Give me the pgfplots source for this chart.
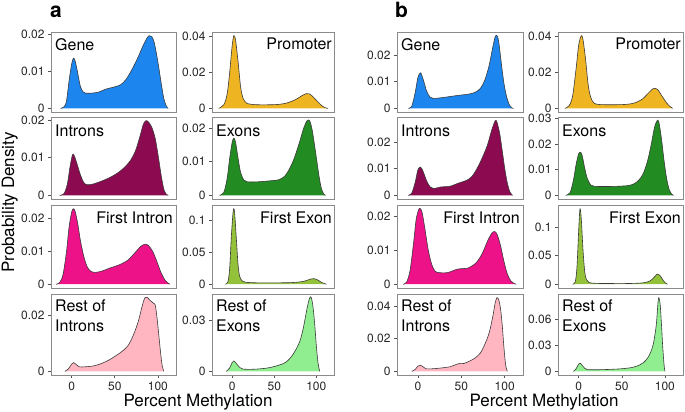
\documentclass[border=0pt]{standalone}
\usepackage{fontspec}
\setmainfont{TeX Gyre Heros}
\usepackage{pgfplots}
\usepackage{pgfplotstable}
\pgfplotsset{compat=1.18}

\definecolor{genecol}{HTML}{1C86EE}
\definecolor{promcol}{HTML}{EEB422}
\definecolor{intrcol}{HTML}{8B0A50}
\definecolor{exoncol}{HTML}{228B22}
\definecolor{fintcol}{HTML}{EE1289}
\definecolor{fexcol}{HTML}{93C13A}
\definecolor{rintcol}{HTML}{FFB6C1}
\definecolor{rexcol}{HTML}{90EE90}
\definecolor{framecol}{HTML}{8A8A8A}
\definecolor{tickcol}{HTML}{555555}
\definecolor{linecol}{HTML}{3A3A3A}

% panel a
\pgfplotstableread[row sep=\\]{x y\\ -13 0\\ -9 0.0004\\ -6 0.002\\ -3 0.0075\\ 0 0.012\\ 2 0.0135\\ 4 0.0128\\ 7 0.0095\\ 10 0.006\\ 13 0.0045\\ 16 0.0041\\ 22 0.0041\\ 30 0.0043\\ 40 0.0052\\ 50 0.0058\\ 57 0.0064\\ 63 0.0078\\ 70 0.0105\\ 77 0.0138\\ 83 0.0170\\ 88 0.0192\\ 90 0.0196\\ 93 0.0193\\ 96 0.0175\\ 100 0.0125\\ 104 0.0065\\ 107 0.0025\\ 110 0.0005\\ 112 0\\}\geneA
\pgfplotstableread[row sep=\\]{x y\\ -16 0\\ -10 0.002\\ -6 0.008\\ -3 0.02\\ 0 0.035\\ 2 0.0405\\ 4 0.038\\ 7 0.026\\ 10 0.012\\ 13 0.0055\\ 17 0.003\\ 22 0.0023\\ 30 0.002\\ 45 0.002\\ 55 0.0022\\ 65 0.003\\ 75 0.0048\\ 82 0.0068\\ 88 0.0082\\ 92 0.008\\ 97 0.006\\ 102 0.0035\\ 107 0.0013\\ 111 0.0003\\ 114 0\\}\promA
\pgfplotstableread[row sep=\\]{x y\\ -14 0\\ -9 0.0004\\ -5 0.003\\ -2 0.0075\\ 1 0.0108\\ 3 0.0105\\ 6 0.0085\\ 10 0.0055\\ 14 0.0034\\ 18 0.0028\\ 25 0.003\\ 35 0.0038\\ 45 0.0048\\ 55 0.0062\\ 62 0.0076\\ 68 0.0092\\ 74 0.0118\\ 79 0.0155\\ 83 0.0188\\ 86 0.0198\\ 89 0.0195\\ 93 0.0180\\ 97 0.0150\\ 101 0.0095\\ 104 0.0050\\ 107 0.0015\\ 110 0.0002\\ 112 0\\}\intrA
\pgfplotstableread[row sep=\\]{x y\\ -15 0\\ -10 0.0008\\ -6 0.005\\ -3 0.011\\ 0 0.0158\\ 2 0.017\\ 4 0.0158\\ 7 0.011\\ 10 0.0068\\ 14 0.0045\\ 18 0.004\\ 30 0.0040\\ 45 0.0043\\ 55 0.0046\\ 62 0.0056\\ 68 0.0078\\ 74 0.0112\\ 80 0.0158\\ 85 0.020\\ 89 0.0222\\ 92 0.0222\\ 95 0.0195\\ 99 0.013\\ 103 0.006\\ 106 0.002\\ 109 0.0003\\ 111 0\\}\exonA
\pgfplotstableread[row sep=\\]{x y\\ -18 0\\ -14 0.0005\\ -10 0.003\\ -6 0.010\\ -3 0.0175\\ 0 0.022\\ 2 0.023\\ 4 0.0222\\ 7 0.0185\\ 10 0.0135\\ 14 0.0085\\ 18 0.0053\\ 22 0.0040\\ 27 0.0036\\ 35 0.0040\\ 45 0.0050\\ 55 0.0059\\ 65 0.0073\\ 73 0.0095\\ 80 0.0115\\ 85 0.0122\\ 89 0.0118\\ 94 0.0100\\ 99 0.0068\\ 104 0.0033\\ 109 0.0010\\ 114 0\\}\fintA
\pgfplotstableread[row sep=\\]{x y\\ -8 0\\ -5 0.004\\ -3 0.025\\ -1 0.075\\ 1 0.112\\ 2 0.118\\ 3 0.110\\ 5 0.070\\ 7 0.030\\ 9 0.012\\ 12 0.005\\ 16 0.003\\ 30 0.0022\\ 50 0.0022\\ 70 0.0025\\ 85 0.0045\\ 93 0.0080\\ 98 0.0085\\ 102 0.0065\\ 106 0.003\\ 110 0.0008\\ 112 0\\}\fexA
\pgfplotstableread[row sep=\\]{x y\\ -8 0\\ -4 0.0008\\ 0 0.0026\\ 2 0.0031\\ 5 0.0025\\ 9 0.0016\\ 15 0.0016\\ 25 0.0019\\ 33 0.0026\\ 42 0.0038\\ 51 0.0055\\ 58 0.0070\\ 65 0.0090\\ 71 0.0125\\ 77 0.0175\\ 82 0.0235\\ 85 0.0262\\ 88 0.0262\\ 91 0.0252\\ 95 0.0242\\ 97 0.0235\\ 99 0.019\\ 101 0.013\\ 103 0.007\\ 105 0.002\\ 107 0\\}\rintA
\pgfplotstableread[row sep=\\]{x y\\ -7 0\\ -3 0.002\\ 0 0.0052\\ 2 0.0061\\ 5 0.0045\\ 9 0.0022\\ 13 0.0013\\ 25 0.0012\\ 40 0.0018\\ 50 0.0028\\ 59 0.0042\\ 65 0.0058\\ 71 0.009\\ 76 0.013\\ 81 0.0185\\ 85 0.0265\\ 89 0.037\\ 92 0.043\\ 94 0.0432\\ 96 0.038\\ 98 0.028\\ 100 0.015\\ 102 0.005\\ 104 0\\}\rexA
% panel b
\pgfplotstableread[row sep=\\]{x y\\ -11 0\\ -7 0.0008\\ -3 0.006\\ 0 0.0115\\ 3 0.0133\\ 6 0.011\\ 10 0.0065\\ 14 0.0042\\ 18 0.0037\\ 30 0.0041\\ 45 0.0048\\ 58 0.0053\\ 66 0.0060\\ 72 0.0075\\ 77 0.0105\\ 82 0.016\\ 86 0.0225\\ 89 0.0268\\ 91 0.0272\\ 93 0.025\\ 96 0.017\\ 99 0.0095\\ 102 0.0045\\ 105 0.0015\\ 108 0.0002\\ 110 0\\}\geneB
\pgfplotstableread[row sep=\\]{x y\\ -16 0\\ -11 0.0015\\ -7 0.007\\ -3 0.022\\ 0 0.035\\ 3 0.0402\\ 5 0.038\\ 8 0.027\\ 11 0.013\\ 14 0.006\\ 18 0.0028\\ 25 0.0021\\ 40 0.002\\ 55 0.0022\\ 65 0.003\\ 74 0.0052\\ 81 0.0085\\ 86 0.0108\\ 89 0.0111\\ 92 0.0102\\ 97 0.0065\\ 102 0.003\\ 106 0.001\\ 109 0\\}\promB
\pgfplotstableread[row sep=\\]{x y\\ -11 0\\ -7 0.0008\\ -3 0.005\\ 0 0.0095\\ 3 0.0106\\ 6 0.009\\ 10 0.0055\\ 14 0.0032\\ 18 0.0025\\ 26 0.0031\\ 37 0.0034\\ 47 0.0046\\ 56 0.0056\\ 62 0.0070\\ 68 0.0100\\ 74 0.0140\\ 80 0.0188\\ 85 0.0245\\ 89 0.0280\\ 91 0.0275\\ 94 0.0235\\ 97 0.0170\\ 100 0.0100\\ 103 0.0045\\ 106 0.0012\\ 109 0\\}\intrB
\pgfplotstableread[row sep=\\]{x y\\ -15 0\\ -10 0.001\\ -6 0.006\\ -3 0.012\\ 0 0.0162\\ 2 0.0167\\ 4 0.0155\\ 7 0.0105\\ 10 0.0065\\ 14 0.0040\\ 18 0.0035\\ 30 0.0034\\ 45 0.0035\\ 58 0.0038\\ 65 0.0046\\ 70 0.0060\\ 75 0.0085\\ 80 0.0135\\ 84 0.0195\\ 88 0.0265\\ 91 0.029\\ 93 0.0285\\ 96 0.022\\ 99 0.0135\\ 102 0.0065\\ 105 0.0022\\ 108 0.0004\\ 110 0\\}\exonB
\pgfplotstableread[row sep=\\]{x y\\ -17 0\\ -13 0.0006\\ -9 0.004\\ -5 0.012\\ -2 0.019\\ 1 0.022\\ 3 0.0222\\ 5 0.021\\ 8 0.0165\\ 12 0.010\\ 16 0.0058\\ 20 0.0038\\ 25 0.0034\\ 34 0.0034\\ 45 0.0044\\ 52 0.0046\\ 57 0.0047\\ 63 0.0055\\ 68 0.0066\\ 74 0.0090\\ 80 0.0126\\ 85 0.0150\\ 88 0.0155\\ 91 0.0148\\ 95 0.0115\\ 99 0.0068\\ 103 0.003\\ 107 0.001\\ 111 0.0002\\ 113 0\\}\fintB
\pgfplotstableread[row sep=\\]{x y\\ -7 0\\ -4 0.004\\ -2 0.03\\ 0 0.095\\ 1.5 0.1325\\ 3 0.115\\ 5 0.06\\ 7 0.022\\ 9 0.008\\ 12 0.003\\ 20 0.0015\\ 40 0.0012\\ 60 0.0013\\ 75 0.0025\\ 83 0.006\\ 88 0.013\\ 91 0.0178\\ 94 0.016\\ 97 0.009\\ 100 0.003\\ 103 0\\}\fexB
\pgfplotstableread[row sep=\\]{x y\\ -7 0\\ -3 0.0012\\ 0 0.0032\\ 3 0.0038\\ 6 0.0028\\ 10 0.0015\\ 18 0.0016\\ 26 0.0020\\ 37 0.0028\\ 44 0.0042\\ 49 0.0049\\ 53 0.0048\\ 60 0.0064\\ 66 0.0082\\ 72 0.0113\\ 77 0.0165\\ 82 0.0235\\ 86 0.0330\\ 89 0.0420\\ 91 0.0452\\ 93 0.0440\\ 95 0.0390\\ 97 0.0290\\ 99 0.0150\\ 101 0.004\\ 103 0\\}\rintB
\pgfplotstableread[row sep=\\]{x y\\ -6 0\\ -3 0.003\\ 0 0.0085\\ 2 0.0094\\ 4 0.007\\ 7 0.0035\\ 10 0.002\\ 20 0.0018\\ 35 0.0022\\ 50 0.0030\\ 62 0.0045\\ 70 0.0070\\ 75 0.010\\ 80 0.0155\\ 84 0.0234\\ 87 0.0340\\ 90 0.0540\\ 92 0.0800\\ 93 0.0857\\ 94.5 0.0780\\ 96 0.055\\ 97.5 0.028\\ 99 0.008\\ 100 0\\}\rexB

\pgfplotsset{
  dens/.style={
    scale only axis, anchor=north west,
    xmin=-24, xmax=121,
    axis line style={draw=framecol, line width=0.8pt},
    tick style={draw=tickcol, line width=0.6pt},
    tick align=outside, major tick length=3pt,
    xtick=\empty, ytick pos=left,
    scaled y ticks=false, scaled x ticks=false,
    tick label style={font=\fontsize{12}{12}\selectfont, text=black!85},
    /pgf/number format/assume math mode=true,
  },
  bottom/.style={xtick={0,50,100}, xticklabels={0,50,100}, xtick pos=bottom},
  area/.style={fill=#1, draw=none, smooth},
  edge/.style={draw=linecol, line width=0.6pt, smooth},
}
\tikzset{lbl/.style={inner sep=0pt, font=\fontsize{16}{20}\selectfont, align=left}}
\newcommand{\dcurve}[2]{%
  \addplot[area=#2] table {#1} \closedcycle;
  \addplot[edge] table {#1};
}

\begin{document}
\begin{tikzpicture}
\useasboundingbox (0,0) rectangle (685pt,-412pt);

% ---------- panel a ----------
\begin{axis}[dens, at={(51pt,-32pt)}, width=125pt, height=80pt,
  ymin=-0.00098, ymax=0.02058, ytick={0,0.01,0.02}, yticklabels={0,0.01,0.02}]
\dcurve{\geneA}{genecol}
\node[lbl, anchor=north west, xshift=4pt, yshift=-6pt] at (rel axis cs:0,1) {Gene};
\end{axis}
\begin{axis}[dens, at={(212pt,-32pt)}, width=122pt, height=80pt,
  ymin=-0.002025, ymax=0.042525, ytick={0,0.02,0.04}, yticklabels={0,0.02,0.04}]
\dcurve{\promA}{promcol}
\node[lbl, anchor=north east, xshift=-2pt, yshift=-6pt] at (rel axis cs:1,1) {Promoter};
\end{axis}
\begin{axis}[dens, at={(51pt,-117pt)}, width=125pt, height=82pt,
  ymin=-0.00099, ymax=0.02079, ytick={0,0.01,0.02}, yticklabels={0,0.01,0.02}]
\dcurve{\intrA}{intrcol}
\node[lbl, anchor=north west, xshift=4pt, yshift=-8pt] at (rel axis cs:0,1) {Introns};
\end{axis}
\begin{axis}[dens, at={(212pt,-117pt)}, width=122pt, height=82pt,
  ymin=-0.00111, ymax=0.02331, ytick={0,0.01,0.02}, yticklabels={0,0.01,0.02}]
\dcurve{\exonA}{exoncol}
\node[lbl, anchor=north west, xshift=4pt, yshift=-8pt] at (rel axis cs:0,1) {Exons};
\end{axis}
\begin{axis}[dens, at={(51pt,-205pt)}, width=125pt, height=83pt,
  ymin=-0.00115, ymax=0.02415, ytick={0,0.01,0.02}, yticklabels={0,0.01,0.02}]
\dcurve{\fintA}{fintcol}
\node[lbl, anchor=north east, xshift=-3pt, yshift=-7pt] at (rel axis cs:1,1) {First Intron};
\end{axis}
\begin{axis}[dens, at={(212pt,-205pt)}, width=122pt, height=83pt,
  ymin=-0.0059, ymax=0.1239, ytick={0,0.05,0.1}, yticklabels={0,0.05,0.1}]
\dcurve{\fexA}{fexcol}
\node[lbl, anchor=north east, xshift=-2pt, yshift=-7pt] at (rel axis cs:1,1) {First Exon};
\end{axis}
\begin{axis}[dens, bottom, at={(51pt,-294pt)}, width=125pt, height=81pt,
  ymin=-0.00131, ymax=0.02751, ytick={0,0.02}, yticklabels={0,0.02}]
\dcurve{\rintA}{rintcol}
\node[lbl, anchor=north west, xshift=4pt, yshift=-6pt] at (rel axis cs:0,1) {Rest of\\Introns};
\end{axis}
\begin{axis}[dens, bottom, at={(212pt,-294pt)}, width=122pt, height=81pt,
  ymin=-0.00216, ymax=0.04536, ytick={0,0.03}, yticklabels={0,0.03}]
\dcurve{\rexA}{rexcol}
\node[lbl, anchor=north west, xshift=4pt, yshift=-6pt] at (rel axis cs:0,1) {Rest of\\Exons};
\end{axis}

% ---------- panel b ----------
\begin{axis}[dens, at={(397pt,-32pt)}, width=126pt, height=80pt,
  ymin=-0.00136, ymax=0.02856, ytick={0,0.01,0.02}, yticklabels={0,0.01,0.02}]
\dcurve{\geneB}{genecol}
\node[lbl, anchor=north west, xshift=4pt, yshift=-6pt] at (rel axis cs:0,1) {Gene};
\end{axis}
\begin{axis}[dens, at={(558pt,-32pt)}, width=125pt, height=80pt,
  ymin=-0.00201, ymax=0.04221, ytick={0,0.02,0.04}, yticklabels={0,0.02,0.04}]
\dcurve{\promB}{promcol}
\node[lbl, anchor=north east, xshift=-2pt, yshift=-6pt] at (rel axis cs:1,1) {Promoter};
\end{axis}
\begin{axis}[dens, at={(397pt,-117pt)}, width=126pt, height=82pt,
  ymin=-0.0014, ymax=0.0294, ytick={0,0.01,0.02}, yticklabels={0,0.01,0.02}]
\dcurve{\intrB}{intrcol}
\node[lbl, anchor=north west, xshift=4pt, yshift=-8pt] at (rel axis cs:0,1) {Introns};
\end{axis}
\begin{axis}[dens, at={(558pt,-117pt)}, width=125pt, height=82pt,
  ymin=-0.00145, ymax=0.03045, ytick={0,0.01,0.02,0.03}, yticklabels={0,0.01,0.02,0.03}]
\dcurve{\exonB}{exoncol}
\node[lbl, anchor=north west, xshift=4pt, yshift=-8pt] at (rel axis cs:0,1) {Exons};
\end{axis}
\begin{axis}[dens, at={(397pt,-205pt)}, width=126pt, height=83pt,
  ymin=-0.00111, ymax=0.02331, ytick={0,0.01,0.02}, yticklabels={0,0.01,0.02}]
\dcurve{\fintB}{fintcol}
\node[lbl, anchor=north east, xshift=-3pt, yshift=-7pt] at (rel axis cs:1,1) {First Intron};
\end{axis}
\begin{axis}[dens, at={(558pt,-205pt)}, width=125pt, height=83pt,
  ymin=-0.006625, ymax=0.139125, ytick={0,0.05,0.1}, yticklabels={0,0.05,0.1}]
\dcurve{\fexB}{fexcol}
\node[lbl, anchor=north east, xshift=-2pt, yshift=-7pt] at (rel axis cs:1,1) {First Exon};
\end{axis}
\begin{axis}[dens, bottom, at={(397pt,-294pt)}, width=126pt, height=81pt,
  ymin=-0.00226, ymax=0.04746, ytick={0,0.02,0.04}, yticklabels={0,0.02,0.04}]
\dcurve{\rintB}{rintcol}
\node[lbl, anchor=north west, xshift=4pt, yshift=-6pt] at (rel axis cs:0,1) {Rest of\\Introns};
\end{axis}
\begin{axis}[dens, bottom, at={(558pt,-294pt)}, width=125pt, height=81pt,
  ymin=-0.004285, ymax=0.089985, ytick={0,0.03,0.06}, yticklabels={0,0.03,0.06}]
\dcurve{\rexB}{rexcol}
\node[lbl, anchor=north west, xshift=4pt, yshift=-6pt] at (rel axis cs:0,1) {Rest of\\Exons};
\end{axis}

% ---------- titles ----------
\node[anchor=base west, inner sep=0pt, font=\fontsize{21}{21}\bfseries\selectfont] at (50pt,-18pt) {a};
\node[anchor=base west, inner sep=0pt, font=\fontsize{21}{21}\bfseries\selectfont] at (395pt,-18pt) {b};
\node[anchor=base, inner sep=0pt, rotate=90, font=\fontsize{17}{17}\selectfont] at (14pt,-202.5pt) {Probability Density};
\node[anchor=base, inner sep=0pt, font=\fontsize{17}{17}\selectfont] at (198pt,-406pt) {Percent Methylation};
\node[anchor=base, inner sep=0pt, font=\fontsize{17}{17}\selectfont] at (544pt,-406pt) {Percent Methylation};
\end{tikzpicture}
\end{document}
